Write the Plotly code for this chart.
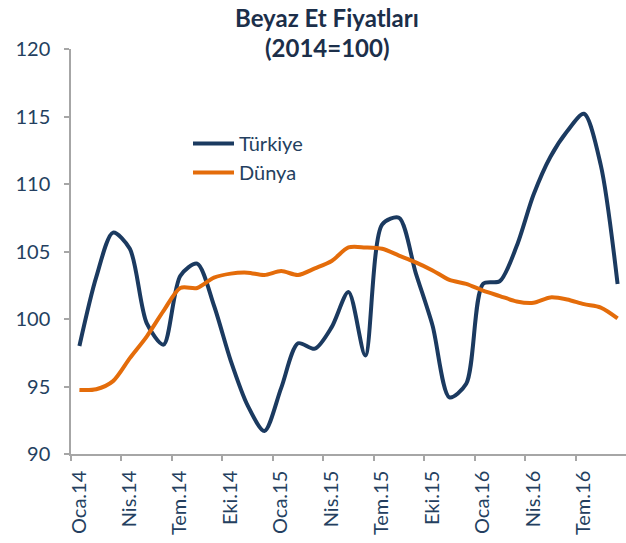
import plotly.graph_objects as go

months = ["Oca.14", "Şub.14", "Mar.14", "Nis.14", "May.14", "Haz.14", "Tem.14", "Ağu.14", "Eyl.14",
          "Eki.14", "Kas.14", "Ara.14", "Oca.15", "Şub.15", "Mar.15", "Nis.15", "May.15", "Haz.15",
          "Tem.15", "Ağu.15", "Eyl.15", "Eki.15", "Kas.15", "Ara.15", "Oca.16", "Şub.16", "Mar.16",
          "Nis.16", "May.16", "Haz.16", "Tem.16", "Ağu.16", "Eyl.16"]

turkiye = [98.0, 103.1, 106.4, 105.2, 99.7, 98.1, 103.2, 104.1, 101.0, 96.9, 93.6, 91.7,
           94.9, 98.2, 97.8, 99.4, 102.0, 97.3, 107.0, 107.5, 103.4, 99.5, 94.2, 95.2,
           102.6, 102.8, 105.4, 109.2, 112.0, 113.9, 115.2, 111.4, 102.6]

dunya = [94.75, 94.8, 95.4, 97.1, 98.7, 100.6, 102.3, 102.3, 103.06, 103.36, 103.43, 103.26,
         103.55, 103.26, 103.75, 104.3, 105.3, 105.3, 105.2, 104.7, 104.2, 103.6, 102.9, 102.6,
         102.1, 101.7, 101.3, 101.2, 101.6, 101.45, 101.1, 100.85, 100.05]

tick_labels = ["Oca.14", "Nis.14", "Tem.14", "Eki.14", "Oca.15", "Nis.15", "Tem.15",
               "Eki.15", "Oca.16", "Nis.16", "Tem.16"]

title_lines = ["Beyaz Et Fiyatları", "(2014=100)"]

x = list(range(len(months)))
label_idx = [months.index(t) for t in tick_labels]

NAVY = "#1B3A60"
ORANGE = "#E46C0A"
TXT = "#243F60"
AX = "#A6A6A6"
FONT = "Lato"

fig = go.Figure()
fig.add_trace(go.Scatter(x=x, y=turkiye, name="Türkiye", mode="lines",
                         line=dict(color=NAVY, width=4, shape="spline", smoothing=0.8),
                         customdata=months, hovertemplate="%{customdata}: %{y}<extra></extra>"))
fig.add_trace(go.Scatter(x=x, y=dunya, name="Dünya", mode="lines",
                         line=dict(color=ORANGE, width=4, shape="spline", smoothing=0.8),
                         customdata=months, hovertemplate="%{customdata}: %{y}<extra></extra>"))

title_ann = []
for line, ypx in zip(title_lines, [18, 47]):
    title_ann.append(dict(text="<b>" + line + "</b>", xref="paper", yref="paper",
                          x=(327 - 71) / 555, y=1 + (49 - ypx) / 405,
                          xanchor="center", yanchor="middle", showarrow=False,
                          font=dict(size=24, color="#1C2F4A", family=FONT)))

fig.update_layout(
    width=626, height=543,
    margin=dict(l=71, r=0, t=49, b=89),
    paper_bgcolor="white", plot_bgcolor="white",
    font=dict(family=FONT, color=TXT),
    showlegend=True,
    legend=dict(x=(188-71)/555, y=(454-124)/405, xanchor="left", yanchor="top",
                bgcolor="rgba(0,0,0,0)", font=dict(size=20, color=TXT, family=FONT),
                itemwidth=41, tracegroupgap=0),
    annotations=title_ann,
)

fig.update_xaxes(
    range=[-0.5, len(months) - 0.5],
    tickmode="array",
    tickvals=[i - 0.5 for i in label_idx],
    ticktext=tick_labels,
    ticklabelshift=8,
    ticks="outside", ticklen=5, tickcolor=AX, tickwidth=1.5,
    tickangle=-90,
    tickfont=dict(size=20, color=TXT, family=FONT),
    ticklabelstandoff=2,
    showline=True, linecolor=AX, linewidth=1.5,
    showgrid=False, zeroline=False, automargin=False,
)
fig.update_yaxes(
    range=[90, 120], tickmode="linear", tick0=90, dtick=5,
    ticks="outside", ticklen=5, tickcolor=AX, tickwidth=1.5,
    tickfont=dict(size=20, color=TXT, family=FONT),
    ticklabelstandoff=10,
    showline=True, linecolor=AX, linewidth=1.5,
    showgrid=False, zeroline=False, automargin=False,
)

fig.write_html("out.html", config={"displayModeBar": False},
               post_script="document.body.style.margin='0';")
